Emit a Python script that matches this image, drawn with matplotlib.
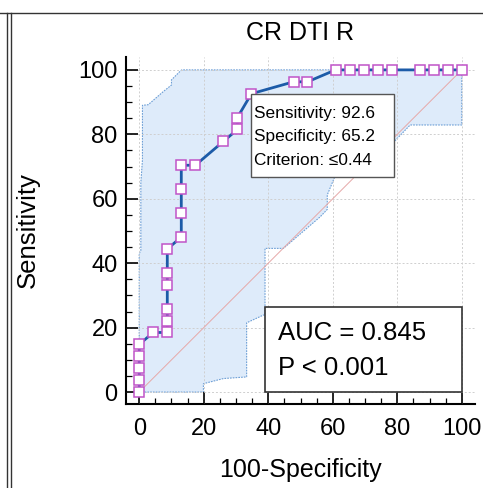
import matplotlib
matplotlib.use("Agg")
import matplotlib.pyplot as plt
from matplotlib.patches import Rectangle
from matplotlib.lines import Line2D
from matplotlib.ticker import MultipleLocator

plt.rcParams['font.family'] = ['Liberation Sans', 'DejaVu Sans']

# ROC curve points (100-Specificity, Sensitivity)
fpr = [0, 0, 0, 0, 0, 4.35, 8.70, 8.70, 8.70, 8.70, 8.70, 8.70, 13.04, 13.04, 13.04,
       13.04, 17.39, 26.09, 30.43, 30.43, 34.78, 47.83, 52.17, 60.87, 65.22, 69.57,
       73.91, 78.26, 86.96, 91.30, 95.65, 100]
tpr = [0, 3.7, 7.4, 11.1, 14.8, 18.5, 18.5, 22.2, 25.9, 33.3, 37.0, 44.4, 48.1, 55.6,
       63.0, 70.4, 70.4, 77.8, 81.5, 85.2, 92.6, 96.3, 96.3, 100, 100, 100, 100, 100,
       100, 100, 100, 100]

# 95% confidence band
upper_x = [0, 0, 0.5, 0.5, 1.0, 1.0, 2.8, 7.5, 10.0, 10.0, 12.6, 13.2, 100]
upper_y = [0, 43, 44, 65, 72, 89, 89.2, 93.3, 95.3, 96.9, 99.5, 100, 100]
lower_x = [100, 100, 84.0, 79.0, 60.7, 60.2, 58.3, 58.3, 56.1, 44.7, 39.0, 39.0,
           38.5, 33.3, 33.3, 26.1, 19.9, 19.9, 0]
lower_y = [100, 82.9, 82.9, 77.7, 66.9, 65.8, 61.2, 56.7, 54.4, 44.6, 44.6, 23.9,
           23.9, 21.5, 4.7, 4.2, 2.6, 0, 0]

title = "CR DTI R"
xlabel = "100-Specificity"
ylabel = "Sensitivity"
crit_lines = ["Sensitivity: 92.6", "Specificity: 65.2", "Criterion: \u22640.44"]
auc_lines = ["AUC = 0.845", "P < 0.001"]
ticks = [0, 20, 40, 60, 80, 100]

fig = plt.figure(figsize=(4.83, 4.88), dpi=100)
W, H = 483, 488
ax = fig.add_axes([126 / W, 1 - 404 / H, (475 - 126) / W, (404 - 57) / H])
ax.set_xlim(-4.1, 104.1)
ax.set_ylim(-3.7, 104.0)

# confidence band
bx = upper_x + lower_x
by = upper_y + lower_y
ax.fill(bx, by, facecolor='#deebfa', edgecolor='#6d9fd6', linewidth=0.8,
        linestyle=(0, (1.5, 1)), zorder=1)

ax.grid(True, color='#cfcfcf', linestyle=(0, (2, 2)), linewidth=0.7, zorder=2)
ax.set_axisbelow(False)

# diagonal reference
ax.plot([0, 100], [0, 100], color='#e6a8a8', linewidth=0.7, zorder=3)

# ROC curve
ax.plot(fpr, tpr, color='#1c5ba8', linewidth=2.0, zorder=4,
        marker='s', markersize=7.0, markerfacecolor='white',
        markeredgecolor='#c054c8', markeredgewidth=1.1)

# criterion box
ax.add_patch(Rectangle((34.78, 66.8), 79.0 - 34.78, 92.6 - 66.8, facecolor='white',
                       edgecolor='#555555', linewidth=1.0, zorder=6))
for i, s in enumerate(crit_lines):
    ax.text(35.7, 86.6 - i * 7.3, s, fontsize=12.4, va='center', ha='left', zorder=7)

# AUC box
ax.add_patch(Rectangle((39.0, 0), 61.0, 26.5, facecolor='white',
                       edgecolor='#333333', linewidth=1.2, zorder=6))
ax.text(43.0, 16.1, auc_lines[0], fontsize=18.5, va='baseline', ha='left', zorder=7)
ax.text(43.0, 5.3, auc_lines[1], fontsize=18.5, va='baseline', ha='left', zorder=7)

# axes styling
for side in ['top', 'right']:
    ax.spines[side].set_visible(False)
for side in ['left', 'bottom']:
    ax.spines[side].set_linewidth(1.5)
ax.set_xticks(ticks)
ax.set_yticks(ticks)
ax.xaxis.set_minor_locator(MultipleLocator(5))
ax.yaxis.set_minor_locator(MultipleLocator(5))
ax.tick_params(which='major', direction='in', length=8.5, width=1.2, labelsize=17)
ax.tick_params(which='minor', direction='in', length=4, width=0.9)
ax.tick_params(axis='x', which='major', pad=10)
ax.tick_params(axis='y', which='major', pad=6)

ax.set_title(title, fontsize=18, pad=12)
ax.set_xlabel(xlabel, fontsize=18, labelpad=13)
ax.set_ylabel(ylabel, fontsize=18.5, labelpad=28)

# outer frame lines
fig.add_artist(Line2D([0, 1], [1 - 13 / H, 1 - 13 / H], color='#333333', linewidth=1.0,
                      transform=fig.transFigure))
for px in (7.3, 11):
    fig.add_artist(Line2D([px / W, px / W], [0, 1 - 13 / H], color='#333333', linewidth=1.0,
                          transform=fig.transFigure))

fig.savefig('out.png', dpi=100)
